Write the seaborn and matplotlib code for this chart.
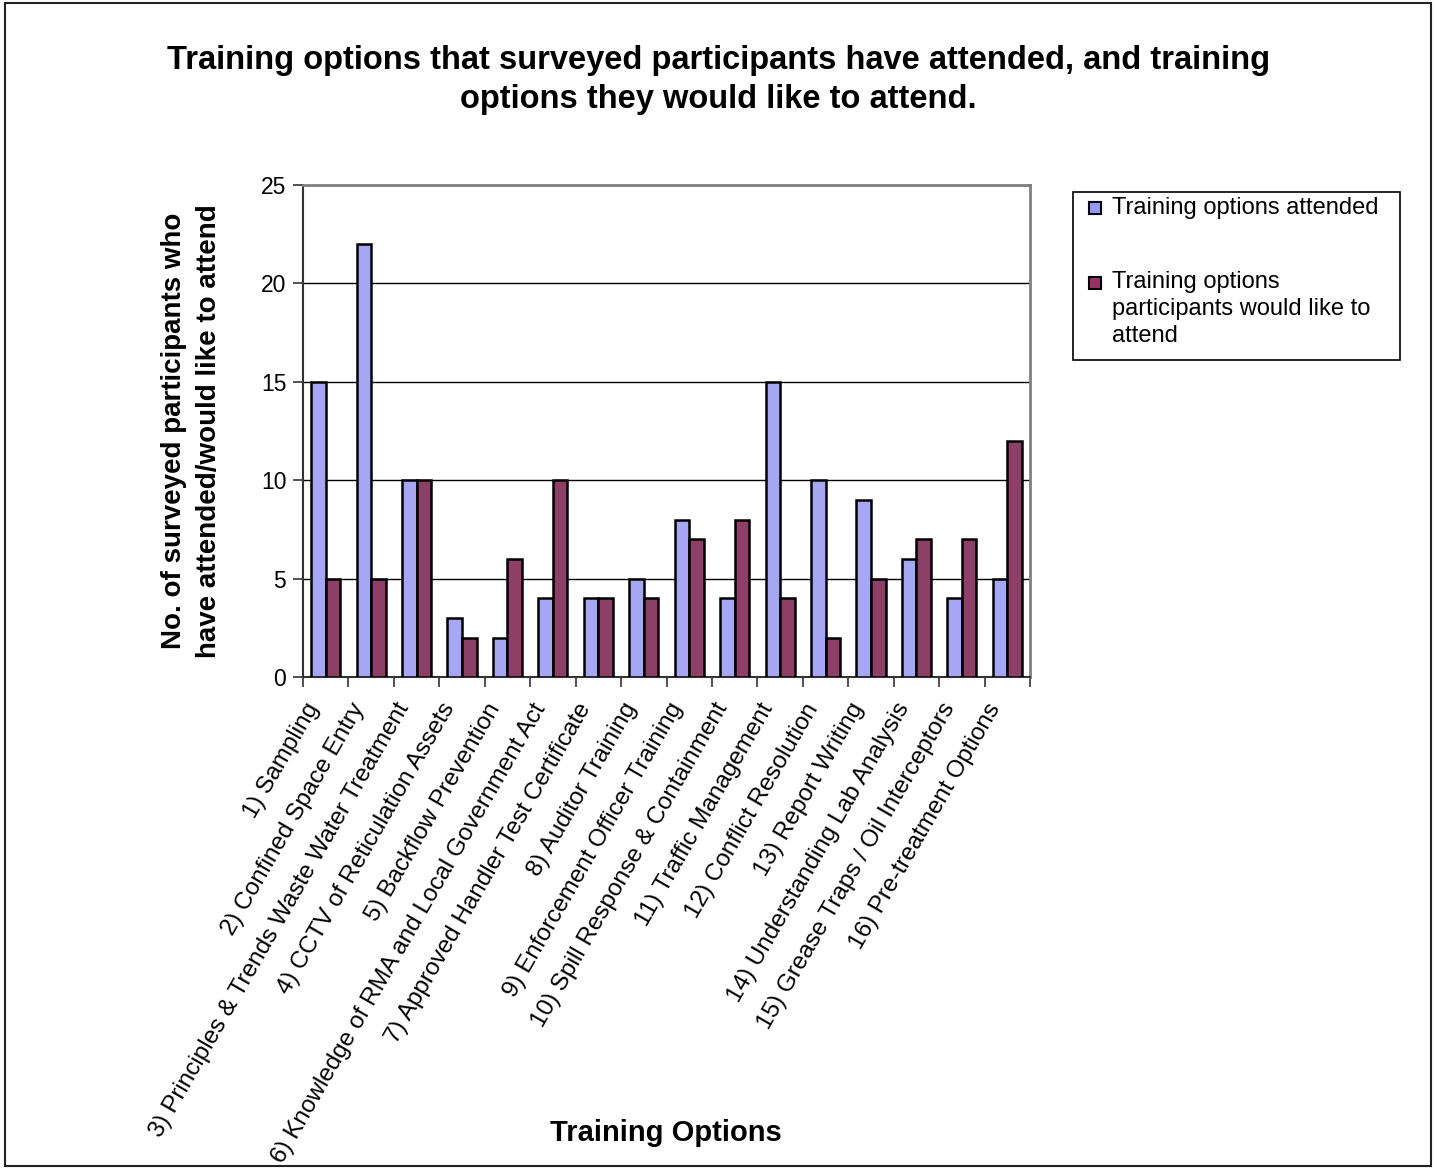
import matplotlib
matplotlib.use("Agg")
import matplotlib.pyplot as plt
import matplotlib.transforms as mtransforms
import seaborn as sns
import pandas as pd
from matplotlib.patches import Rectangle

categories = [
    "1) Sampling",
    "2) Confined Space Entry",
    "3) Principles & Trends Waste Water Treatment",
    "4) CCTV of Reticulation Assets",
    "5) Backflow Prevention",
    "6) Knowledge of RMA and Local Government Act",
    "7) Approved Handler Test Certificate",
    "8) Auditor Training",
    "9) Enforcement Officer Training",
    "10) Spill Response & Containment",
    "11) Traffic Management",
    "12) Conflict Resolution",
    "13) Report Writing",
    "14) Understanding Lab Analysis",
    "15) Grease Traps / Oil Interceptors",
    "16) Pre-treatment Options",
]
attended = [15, 22, 10, 3, 2, 4, 4, 5, 8, 4, 15, 10, 9, 6, 4, 5]
would_like = [5, 5, 10, 2, 6, 10, 4, 4, 7, 8, 4, 2, 5, 7, 7, 12]

series_names = ["Training options attended",
                "Training options\nparticipants would like to\nattend"]
colors = ["#9999FF", "#993366"]

df = pd.DataFrame({
    "Option": categories * 2,
    "Count": attended + would_like,
    "Series": [series_names[0]] * len(categories) + [series_names[1]] * len(categories),
})

sns.set_style("white")
plt.rcParams["font.family"] = ["Liberation Sans", "DejaVu Sans"]
plt.rcParams.update({"text.color": "black", "axes.labelcolor": "black",
                     "xtick.color": "black", "ytick.color": "black"})

W, H = 1437, 1169
fig = plt.figure(figsize=(W / 100, H / 100), dpi=100)


def fx(px):
    return px / W


def fy(py):
    return 1 - py / H


ax = fig.add_axes([fx(303), fy(677), fx(1030) - fx(303), fy(185) - fy(677)])

sns.barplot(data=df, x="Option", y="Count", hue="Series", palette=colors,
            width=0.64, edgecolor="black", linewidth=1.8, ax=ax,
            errorbar=None, legend=False, zorder=3)

ax.set_ylim(0, 25)
ax.set_xlim(-0.5, len(categories) - 0.5)
ax.set_yticks([0, 5, 10, 15, 20, 25])
ax.yaxis.grid(True, color="black", linewidth=1, zorder=0)
ax.set_axisbelow(True)

# tick marks at the category boundaries, labels at the category centres
ax.set_xticks([i - 0.5 for i in range(len(categories) + 1)])
ax.set_xticklabels([])
ax.tick_params(axis="x", which="major", direction="out", length=7, width=1.2, color="#333333")
ax.set_xticks(range(len(categories)), minor=True)
ax.set_xticklabels(categories, minor=True, rotation=60, ha="right", va="center",
                   rotation_mode="anchor", fontsize=17.5, color="black")
ax.tick_params(axis="x", which="minor", length=0, pad=20)
ax.tick_params(axis="y", direction="out", length=7, width=1.2, color="#333333",
               labelsize=16.5, labelcolor="black", pad=5)
ax.tick_params(left=True, bottom=True)

shift = mtransforms.ScaledTranslation(-0.12, 0, fig.dpi_scale_trans)
for lbl in ax.get_xticklabels(minor=True):
    lbl.set_transform(lbl.get_transform() + shift)

for side in ["top", "right"]:
    ax.spines[side].set_color("#808080")
    ax.spines[side].set_linewidth(2)
for side in ["left", "bottom"]:
    ax.spines[side].set_color("#333333")
    ax.spines[side].set_linewidth(1.5)

ax.set_xlabel("")
ax.set_ylabel("No. of surveyed participants who\nhave attended/would like to attend",
              fontsize=20, fontweight="bold", linespacing=1.45, color="black")
ax.yaxis.set_label_coords((222 - 303) / 727, 0.5)

fig.text(0.5, fy(80), "Training options that surveyed participants have attended, and training\n"
         "options they would like to attend.",
         ha="center", va="center", fontsize=23.5, fontweight="bold", linespacing=1.3)

fig.text(fx(666), fy(1133), "Training Options", ha="center", va="center",
         fontsize=21, fontweight="bold")

# legend box
fig.patches.append(Rectangle((fx(1073), fy(360)), fx(1400) - fx(1073), fy(192) - fy(360),
                             transform=fig.transFigure, fill=False,
                             edgecolor="black", linewidth=1.2))
key_y = [208, 283]
for c, ky in zip(colors, key_y):
    fig.patches.append(Rectangle((fx(1089), fy(ky + 6)), fx(12), 12 / H,
                                 transform=fig.transFigure, facecolor=c,
                                 edgecolor="black", linewidth=1.5))
fig.text(fx(1112), fy(208), series_names[0], ha="left", va="center", fontsize=17)
fig.text(fx(1112), fy(271), series_names[1], ha="left", va="top", fontsize=17,
         linespacing=1.3)

# outer frame
fig.patches.append(Rectangle((fx(5), fy(1166)), fx(1431) - fx(5), fy(3) - fy(1166),
                             transform=fig.transFigure, fill=False,
                             edgecolor="#222222", linewidth=1.5))

fig.savefig("out.png", dpi=100)
